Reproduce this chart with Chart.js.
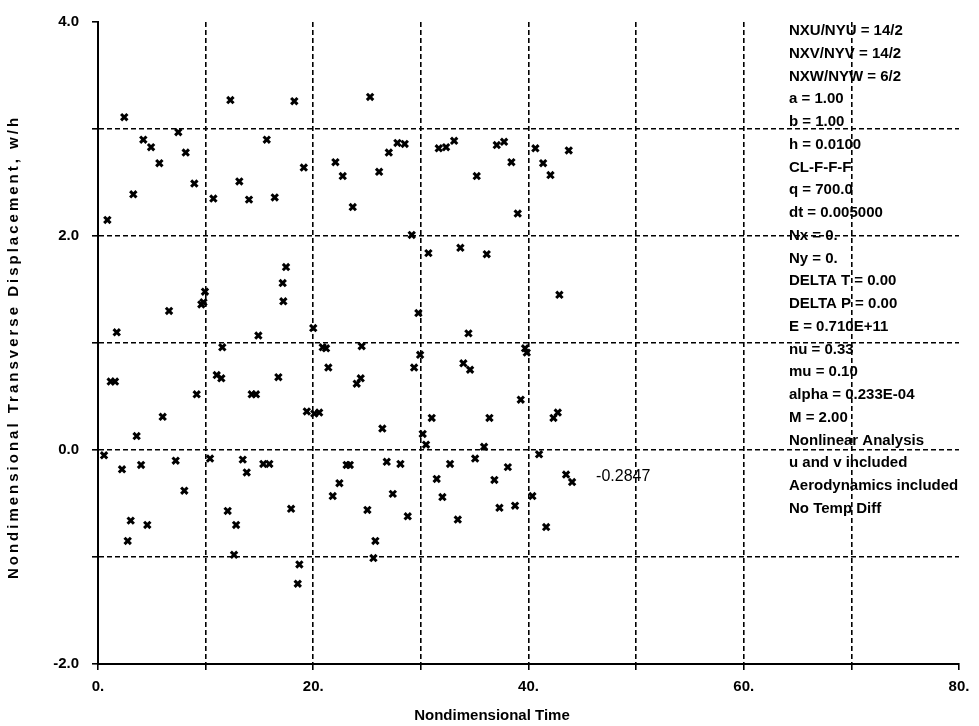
<!DOCTYPE html>
<html><head><meta charset="utf-8">
<script src="https://cdn.jsdelivr.net/npm/chart.js@4"></script>
<style>html,body{margin:0;padding:0;background:#fff;}#wrap{width:979px;height:726px;}</style>
</head><body><div id="wrap"><canvas id="c" width="979" height="726"></canvas></div>
<script>
const timeValues = [0.56,0.87,1.18,1.58,1.74,2.23,2.44,2.76,3.04,3.28,3.59,4.00,4.21,4.58,4.93,5.70,6.01,6.60,7.22,7.46,8.02,8.15,8.95,9.17,9.60,9.80,9.94,10.41,10.72,11.03,11.46,11.55,12.05,12.30,12.64,12.83,13.13,13.45,13.82,14.03,14.28,14.68,14.90,15.36,15.68,15.92,16.42,16.76,17.16,17.22,17.47,17.94,18.24,18.56,18.71,19.12,19.40,20.00,20.10,20.55,20.88,21.19,21.40,21.81,22.06,22.43,22.74,23.10,23.40,23.67,24.04,24.41,24.50,25.03,25.28,25.59,25.77,26.12,26.42,26.83,27.02,27.39,27.82,28.10,28.50,28.78,29.15,29.37,29.77,29.93,30.17,30.48,30.70,31.01,31.47,31.66,32.00,32.34,32.71,33.09,33.43,33.67,33.95,34.42,34.57,35.04,35.19,35.87,36.12,36.37,36.83,37.05,37.30,37.73,38.08,38.41,38.75,39.00,39.28,39.68,39.84,40.36,40.64,40.98,41.36,41.64,42.04,42.32,42.72,42.87,43.49,43.74,44.05];
const displacementValues = [-0.05,2.15,0.64,0.64,1.10,-0.18,3.11,-0.85,-0.66,2.39,0.13,-0.14,2.90,-0.70,2.83,2.68,0.31,1.30,-0.10,2.97,-0.38,2.78,2.49,0.52,1.36,1.38,1.48,-0.08,2.35,0.70,0.67,0.96,-0.57,3.27,-0.98,-0.70,2.51,-0.09,-0.21,2.34,0.52,0.52,1.07,-0.13,2.90,-0.13,2.36,0.68,1.56,1.39,1.71,-0.55,3.26,-1.25,-1.07,2.64,0.36,1.14,0.34,0.35,0.96,0.95,0.77,-0.43,2.69,-0.31,2.56,-0.14,-0.14,2.27,0.62,0.67,0.97,-0.56,3.30,-1.01,-0.85,2.60,0.20,-0.11,2.78,-0.41,2.87,-0.13,2.86,-0.62,2.01,0.77,1.28,0.89,0.15,0.05,1.84,0.30,-0.27,2.82,-0.44,2.83,-0.13,2.89,-0.65,1.89,0.81,1.09,0.75,-0.08,2.56,0.03,1.83,0.30,-0.28,2.85,-0.54,2.88,-0.16,2.69,-0.52,2.21,0.47,0.95,0.91,-0.43,2.82,-0.04,2.68,-0.72,2.57,0.30,0.35,1.45,-0.23,2.80,-0.30];
const xTickValues = [0,20,40,60,80];
const xTickLabels = ['0.','20.','40.','60.','80.'];
const yTickValues = [-2,0,2,4];
const yTickLabels = ['-2.0','0.0','2.0','4.0'];
const xAxisTitle = 'Nondimensional Time';
const yAxisTitle = 'Nondimensional Transverse Displacement, w/h';
const infoLines = ['NXU/NYU = 14/2','NXV/NYV = 14/2','NXW/NYW = 6/2','a = 1.00','b = 1.00','h = 0.0100','CL-F-F-F','q = 700.0','dt = 0.005000','Nx = 0.','Ny = 0.','DELTA T = 0.00','DELTA P = 0.00','E = 0.710E+11','nu = 0.33','mu = 0.10','alpha = 0.233E-04','M = 2.00','Nonlinear Analysis','u and v included','Aerodynamics included','No Temp Diff'];
const finalValueLabel = '-0.2847';

const FONT = '"Liberation Sans", Arial, sans-serif';
const points = timeValues.map((t, i) => ({x: t, y: displacementValues[i]}));

const overlay = {
  id: 'overlay',
  afterDraw(chart) {
    const ctx = chart.ctx;
    const xs = chart.scales.x, ys = chart.scales.y;
    ctx.save();
    ctx.fillStyle = '#000';
    // info block
    ctx.font = 'bold 15px ' + FONT;
    ctx.textAlign = 'left';
    ctx.textBaseline = 'middle';
    infoLines.forEach((s, i) => ctx.fillText(s, 789, 31 + i * 22.75));
    // final value label next to last point
    const last = points[points.length - 1];
    ctx.font = '16px ' + FONT;
    ctx.fillText(finalValueLabel, xs.getPixelForValue(last.x) + 24, ys.getPixelForValue(last.y) - 6);
    // x axis title
    ctx.font = 'bold 15px ' + FONT;
    ctx.textAlign = 'center';
    ctx.fillText(xAxisTitle, 492, 716);
    // y axis title (rotated)
    ctx.save();
    ctx.translate(14, (chart.chartArea.top + chart.chartArea.bottom) / 2 + 4);
    ctx.rotate(-Math.PI / 2);
    ctx.font = 'bold 15px ' + FONT;
    if ('letterSpacing' in ctx) ctx.letterSpacing = '3px';
    ctx.textAlign = 'center';
    ctx.fillText(yAxisTitle, 0, 0);
    ctx.restore();
    ctx.restore();
  }
};

new Chart(document.getElementById('c'), {
  type: 'scatter',
  data: {
    datasets: [{
      data: points,
      pointStyle: 'crossRot',
      pointRadius: 4.5,
      pointHoverRadius: 4.5,
      borderColor: '#000',
      backgroundColor: '#000',
      borderWidth: 3,
      showLine: false
    }]
  },
  options: {
    responsive: false,
    animation: false,
    devicePixelRatio: 1,
    layout: {padding: {left: 0, right: 20, top: 19, bottom: 0}},
    plugins: {legend: {display: false}, tooltip: {enabled: false}},
    scales: {
      x: {
        type: 'linear', min: 0, max: 80,
        afterFit: s => { s.height = 62; },
        afterBuildTicks: s => { s.ticks = [0,10,20,30,40,50,60,70,80].map(v => ({value: v})); },
        ticks: {
          autoSkip: false, maxRotation: 0, padding: 8, color: '#000',
          font: {family: FONT, size: 15, weight: 'bold'},
          callback: v => { const i = xTickValues.indexOf(v); return i >= 0 ? xTickLabels[i] : ''; }
        },
        grid: {
          color: c => (c.tick && (c.tick.value === 0 || c.tick.value === 80)) ? 'rgba(0,0,0,0)' : '#000',
          lineWidth: 1.6, tickColor: '#000', tickLength: 6, tickWidth: 1.6
        },
        border: {display: true, color: '#000', width: 2, dash: [5, 3]}
      },
      y: {
        type: 'linear', min: -2, max: 4,
        afterFit: s => { s.width = 98; },
        afterBuildTicks: s => { s.ticks = [-2,-1,0,1,2,3,4].map(v => ({value: v})); },
        ticks: {
          autoSkip: false, padding: 13, color: '#000',
          font: {family: FONT, size: 15, weight: 'bold'},
          callback: v => { const i = yTickValues.indexOf(v); return i >= 0 ? yTickLabels[i] : ''; }
        },
        grid: {
          color: c => (c.tick && (c.tick.value === 4 || c.tick.value === -2)) ? 'rgba(0,0,0,0)' : '#000',
          lineWidth: 1.6, tickColor: '#000', tickLength: 6, tickWidth: 1.6
        },
        border: {display: true, color: '#000', width: 2, dash: [5, 3]}
      }
    }
  },
  plugins: [overlay]
});
</script></body></html>
